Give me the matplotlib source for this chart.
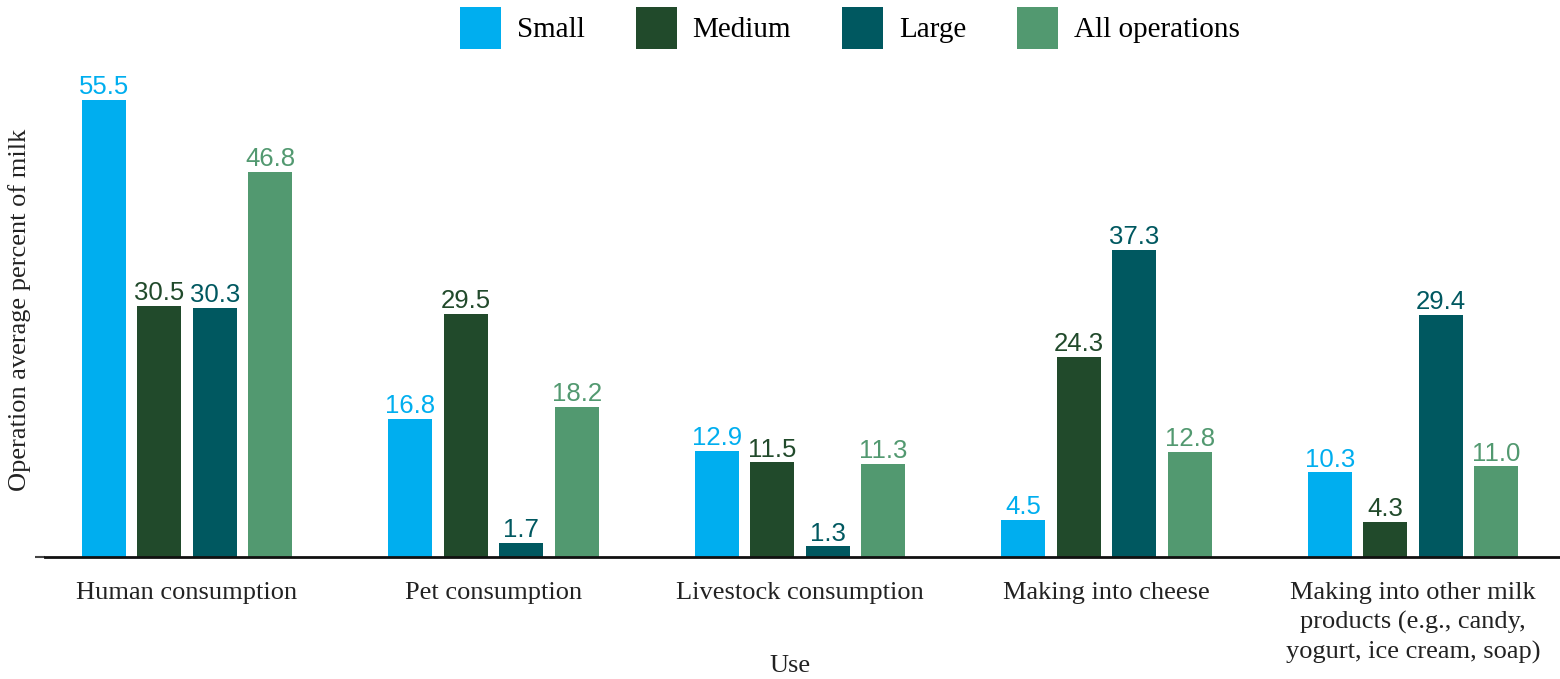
import numpy as np
import matplotlib
matplotlib.use('Agg')
import matplotlib.pyplot as plt

categories = ['Human consumption', 'Pet consumption', 'Livestock consumption',
              'Making into cheese',
              'Making into other milk\nproducts (e.g., candy,\nyogurt, ice cream, soap)']
series_names = ['Small', 'Medium', 'Large', 'All operations']
small = [55.5, 16.8, 12.9, 4.5, 10.3]
medium = [30.5, 29.5, 11.5, 24.3, 4.3]
large = [30.3, 1.7, 1.3, 37.3, 29.4]
all_ops = [46.8, 18.2, 11.3, 12.8, 11.0]

colors = ['#00AEEF', '#214A2B', '#005860', '#529970']
serif = 'Liberation Serif'
sans = 'Liberation Sans'

fig = plt.figure(figsize=(15.6, 6.79), dpi=100)
ax = fig.add_axes([45 / 1560, 122 / 679, 1 - 45 / 1560, (557 - 63) / 679])

x = np.arange(len(categories))
pitch = 0.181
width = 0.1436
data = [small, medium, large, all_ops]
for i, (vals, name, c) in enumerate(zip(data, series_names, colors)):
    pos = x + (i - 1.5) * pitch
    bars = ax.bar(pos, vals, width, color=c, label=name)
    for b, v in zip(bars, vals):
        ax.annotate(f'{v:.1f}', (b.get_x() + b.get_width() / 2, v),
                    xytext=(0, 0.5), textcoords='offset points',
                    ha='center', va='bottom', color=c,
                    fontsize=18.5, family=sans)

ax.set_ylim(0, 60)
ax.set_xlim(-0.463, 4.48)
ax.set_yticks([0])
ax.set_yticklabels([''])
ax.tick_params(axis='y', length=7, width=1.5, color='#444444')
ax.set_xticks(x)
ax.set_xticklabels(categories, fontsize=19, family=serif, color='#222222',
                   linespacing=1.4)
ax.tick_params(axis='x', length=0, pad=18)
for s in ['top', 'right', 'left']:
    ax.spines[s].set_visible(False)
ax.spines['bottom'].set_linewidth(2)
ax.spines['bottom'].set_color('#111111')

ax.set_xlabel('Use', fontsize=19, family=serif, color='#222222')
ax.xaxis.set_label_coords(0.492, -0.198)
ax.set_ylabel('Operation average percent of milk', fontsize=19, family=serif,
              color='#222222')
ax.yaxis.set_label_coords(-0.0093, 0.5)

fig.legend(loc='center', bbox_to_anchor=(850 / 1560, 1 - 28 / 679), ncol=4,
           frameon=False, prop={'family': serif, 'size': 21},
           handlelength=1.4, handleheight=1.8, handletextpad=0.55,
           columnspacing=1.75)

fig.savefig('out.png', dpi=100)
